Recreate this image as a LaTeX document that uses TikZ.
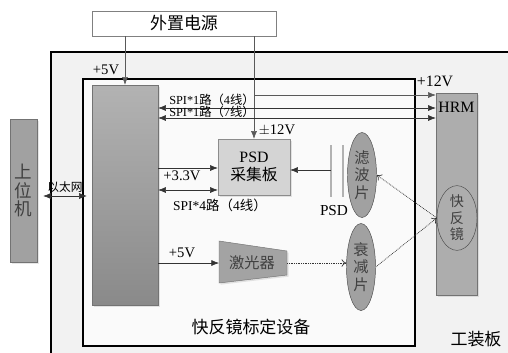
\documentclass[tikz,border=0pt]{standalone}
\usepackage{fontspec}
\setmainfont{Liberation Serif}
\newfontfamily\zhfont{Noto Sans CJK SC}
\newcommand{\zh}[1]{{\zhfont #1}}
\usetikzlibrary{arrows.meta,shadows,shapes.geometric}

\begin{document}
\begin{tikzpicture}[x=0.3mm, y=-0.3mm, font=\fontsize{12.5}{14}\selectfont,
		>={Latex[length=2.3mm,width=1.8mm]},
		conn/.style={draw=black!80, line width=0.5pt},
		beam/.style={draw=black!80, dash pattern=on 0.7pt off 0.8pt, line width=0.6pt, -{To[length=1.4mm,width=2.2mm]}},
		blk/.style={draw=black!55, fill=black!36, drop shadow={shadow xshift=0.5mm, shadow yshift=-0.5mm, opacity=0.2}},
		lens/.style={ellipse, draw=black!70, fill=black!37, align=center, inner sep=0pt, text=black!75, font=\zhfont\fontsize{13}{15}\selectfont},
		zhlbl/.style={font=\zhfont\fontsize{14.5}{16}\selectfont}]
		\def\pu{0.3mm}
		\useasboundingbox (0,0) rectangle (508,352);
		\clip (0,0) rectangle (508,352);
		% ---- frames ----
		\draw[line width=1pt, fill=black!5] (51,52) rectangle (540,370);
		\draw[line width=0.9pt, fill=black!2] (83,79) rectangle (415,346);
		\node[zhlbl] (frame) at (251,327) {快反镜标定设备};
		\node[zhlbl] (board) at (476,339) {工装板};
		% ---- blocks ----
		\node[draw=black!50, fill=white, minimum width=184*\pu, minimum height=25*\pu, zhlbl] (power) at (184,23.5) {外置电源};
		\node[blk, top color=black!30, bottom color=black!46, minimum width=66*\pu, minimum height=220*\pu] (ctrl) at (125,195) {};
		\node[blk, fill=black!32, minimum width=41*\pu, minimum height=202*\pu] (hrm) at (456.5,194) {};
		\node[font=\fontsize{13.5}{15}\selectfont] (hrmlbl) at (456.5,107) {HRM};
		\node[blk, fill=black!37, minimum width=27*\pu, minimum height=143*\pu, align=center, text=black!75, font=\zhfont\fontsize{15}{15.5}\selectfont] (pc) at (23.5,190.5) {上\\位\\机};
		\node[blk, fill=black!17, draw=black!45, minimum width=72*\pu, minimum height=56*\pu, align=center, font=\fontsize{13.5}{15}\selectfont] (psdb) at (254,167) {PSD\\\zh{采集板}};
		% laser as a trapezoid
		\coordinate (l1) at (219,241); \coordinate (l2) at (287,251);
		\coordinate (l3) at (287,275); \coordinate (l4) at (219,283);
		\draw[blk] (l1) -- (l2) -- (l3) -- (l4) -- cycle;
		\node[font=\zhfont\fontsize{13}{15}\selectfont, text=black!75] (laser) at (252,263) {激光器};
		% ---- optics ----
		\coordinate (psd) at (331,170);
		\foreach \xs in {331,343} \draw[black!30, line width=1.2pt] (\xs,145) -- (\xs,197);
		\node[font=\fontsize{13}{15}\selectfont] (psdlbl) at (334,211) {PSD};
		\node[lens, minimum width=29*\pu, minimum height=85*\pu] (filter) at (362,175) {滤\\波\\片};
		\node[lens, minimum width=29*\pu, minimum height=87*\pu] (atten) at (361,267) {衰\\减\\片};
		\node[lens, fill=black!32, minimum width=40*\pu, minimum height=58*\pu, font=\zhfont\fontsize{12}{14}\selectfont] (mirror) at (457,218) {快\\反\\镜};
		% ---- power lines ----
		\draw[conn, draw=black!65, ->] (power.south -| ctrl) -- (ctrl.north);
		\node (v5a) at (106,70) {+5V};
		\draw[conn, draw=black!65, ->] (power.south -| psdb) -- (psdb.north);
		\node (v12a) at (277,130) {$\pm$12V};
		\coordinate (v12) at (254,95);
		\draw[conn, draw=black!65, ->] (v12) -- (v12 -| hrm.west);
		\node[font=\fontsize{13.5}{15}\selectfont] (v12b) at (435,81) {+12V};
		% ---- signal lines ----
		\draw[conn, <->] (ctrl.east |- 0,108) -- (hrm.west |- 0,108);
		\node[font=\fontsize{10.5}{12}\selectfont] (spia) at (212,100) {SPI*1\zh{路（}4\zh{线）}};
		\draw[conn, <->] (ctrl.east |- 0,118) -- (hrm.west |- 0,118);
		\node[font=\fontsize{10.5}{12}\selectfont] (spib) at (212,112) {SPI*1\zh{路（}7\zh{线）}};
		\draw[conn, ->] (ctrl.east |- 0,168) -- (psdb.west |- 0,168);
		\node (v33) at (182,176) {+3.3V};
		\draw[conn, <->] (ctrl.east |- 0,190) -- (psdb.west |- 0,190);
		\node[font=\fontsize{11.5}{13}\selectfont] (spic) at (220,205) {SPI*4\zh{路（}4\zh{线）}};
		\draw[conn, ->] (ctrl.east |- laser) -- (l1 |- laser);
		\node (v5b) at (182,253) {+5V};
		\draw[conn, ->] (psd) -- (psd -| psdb.east);
		\draw[conn, <->, shorten <=1.8mm, shorten >=1.5mm] (pc.east |- 0,196) -- (ctrl.west |- 0,196);
		\node[font=\zhfont\fontsize{10}{12}\selectfont] (eth) at (65,187) {以太网};
		% ---- light path ----
		\draw[beam] (l2 |- laser) -- (atten.west |- laser);
		\draw[beam] (atten.east) -- (mirror.west);
		\draw[beam] (mirror.west) -- (filter.east);
	\end{tikzpicture}
\end{document}
